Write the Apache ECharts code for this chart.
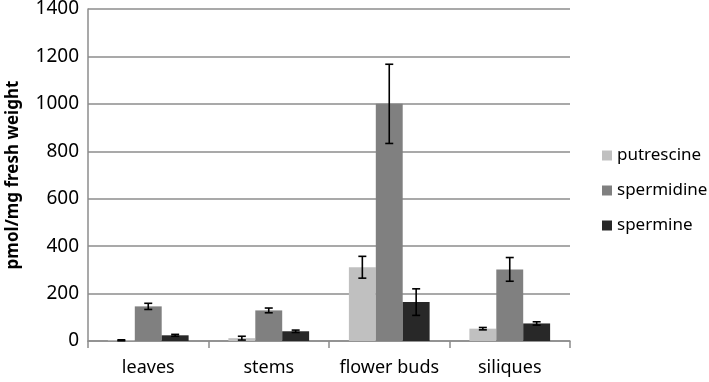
<!DOCTYPE html>
<html>
<head>
<meta charset="utf-8">
<script src="https://cdn.jsdelivr.net/npm/echarts@6/dist/echarts.min.js"></script>
<style>html,body{margin:0;padding:0;background:#fff}#c{width:709px;height:382px}</style>
</head>
<body>
<div id="c"></div>
<script>
const categories = ['leaves', 'stems', 'flower buds', 'siliques'];
const seriesNames = ['putrescine', 'spermidine', 'spermine'];
const putrescine = [3, 12, 311, 52];
const spermidine = [146, 129, 1000, 302];
const spermine = [24, 41, 164, 74];
const putrescineErr = [2, 8, 46, 5];
const spermidineErr = [13, 10, 167, 50];
const spermineErr = [4, 5, 56, 7];
const yTicks = [0, 200, 400, 600, 800, 1000, 1200, 1400];

const values = [putrescine, spermidine, spermine];
const errs = [putrescineErr, spermidineErr, spermineErr];
const colors = ['#c0c0c0', '#808080', '#282828'];
const FONT = 'Noto Sans';
const CAT_GAP = 0.33;

const chart = echarts.init(document.getElementById('c'), null, {renderer: 'canvas'});

const series = [];
seriesNames.forEach((name, i) => {
  series.push({
    name: name,
    type: 'bar',
    data: values[i],
    itemStyle: {color: colors[i]},
    barGap: '0%',
    barCategoryGap: (CAT_GAP * 100) + '%',
    z: 2
  });
});
seriesNames.forEach((name, i) => {
  series.push({
    name: name + ' err',
    type: 'custom',
    data: categories.map((c, k) => [k, values[i][k], errs[i][k]]),
    encode: {x: 0, y: 1},
    z: 5,
    silent: true,
    renderItem: function (params, api) {
      const x = api.value(0), v = api.value(1), e = api.value(2);
      const band = api.size([1, 0])[0];
      const bw = band * (1 - CAT_GAP) / 3;
      const off = (i - 1) * bw;
      const top = api.coord([x, v + e]);
      const bot = api.coord([x, Math.max(0, v - e)]);
      const cx = top[0] + off;
      const cap = 4;
      const st = {stroke: '#000', lineWidth: 1.6};
      return {
        type: 'group',
        children: [
          {type: 'line', shape: {x1: cx, y1: top[1], x2: cx, y2: bot[1]}, style: st},
          {type: 'line', shape: {x1: cx - cap, y1: top[1], x2: cx + cap, y2: top[1]}, style: st},
          {type: 'line', shape: {x1: cx - cap, y1: bot[1], x2: cx + cap, y2: bot[1]}, style: st}
        ]
      };
    }
  });
});

chart.setOption({
  animation: false,
  backgroundColor: '#fff',
  textStyle: {fontFamily: FONT},
  grid: {left: 88, right: 139, top: 9, bottom: 41, containLabel: false, outerBoundsMode: 'none'},
  legend: {
    data: seriesNames,
    orient: 'vertical',
    left: 597,
    top: 142,
    icon: 'rect',
    itemWidth: 10,
    itemHeight: 10,
    itemGap: 18,
    textStyle: {fontSize: 17, color: '#000', fontFamily: FONT}
  },
  xAxis: {
    type: 'category',
    data: categories,
    axisLine: {show: true, lineStyle: {color: '#8c8c8c', width: 1.5}},
    axisTick: {show: true, length: 7, interval: 0, lineStyle: {color: '#8c8c8c', width: 1.5}},
    axisLabel: {fontSize: 18, color: '#000', margin: 18, interval: 0, fontFamily: FONT}
  },
  yAxis: {
    type: 'value',
    min: yTicks[0],
    max: yTicks[yTicks.length - 1],
    interval: 200,
    name: 'pmol/mg fresh weight',
    nameLocation: 'middle',
    nameGap: 66,
    nameTextStyle: {fontSize: 17, fontWeight: 'bold', color: '#000', fontFamily: FONT},
    axisLine: {show: true, lineStyle: {color: '#8c8c8c', width: 1.5}},
    axisTick: {show: false},
    axisLabel: {fontSize: 19, color: '#000', margin: 9, fontFamily: FONT, formatter: v => String(v)},
    splitLine: {show: true, lineStyle: {color: '#8c8c8c', width: 1.5}}
  },
  series: series
});
</script>
</body>
</html>
